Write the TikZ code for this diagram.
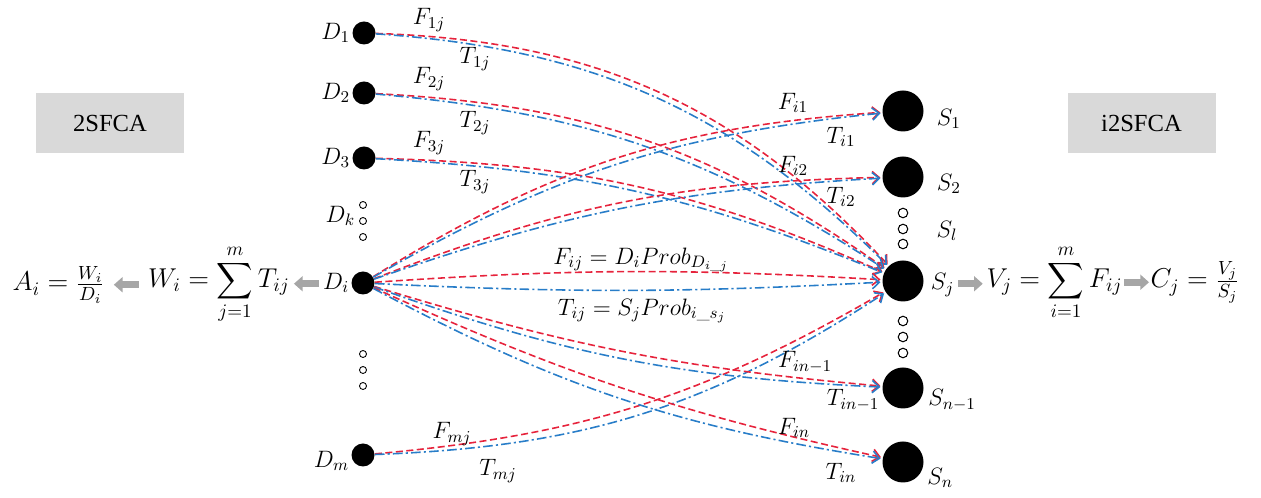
\RequirePackage{fix-cm}
\documentclass[tikz,border=0pt]{standalone}
\usepackage{fontspec}
\usepackage{amsmath}
\usepackage{tikz}
\usetikzlibrary{arrows.meta,positioning,calc}

\newfontfamily\boxfont{Liberation Serif}
\definecolor{flowred}{RGB}{230,35,60}
\definecolor{flowblue}{RGB}{40,125,200}

\begin{document}
\begin{tikzpicture}[
    demand/.style={circle, fill=black, inner sep=0pt, minimum size=0.46cm},
    supply/.style={circle, fill=black, inner sep=0pt, minimum size=0.82cm},
    dgap/.style={circle, draw=black, line width=0.5pt, inner sep=0pt, minimum size=0.14cm},
    sgap/.style={circle, draw=black, line width=0.6pt, inner sep=0pt, minimum size=0.19cm},
    lbl/.style={inner sep=1pt, font=\fontsize{13.5}{16}\selectfont},
    eqn/.style={inner sep=1pt, font=\fontsize{15.5}{18}\selectfont},
    method/.style={fill=gray!30, minimum width=2.96cm, minimum height=1.2cm, font=\boxfont\fontsize{14}{16}\selectfont},
    flowF/.style={flowred, line width=0.9pt, dash pattern=on 4pt off 2pt, -{Straight Barb[length=4pt,width=7pt]}, shorten >=1pt},
    flowT/.style={flowblue, line width=0.9pt, dash pattern=on 5.5pt off 1.8pt on 1.2pt off 1.8pt, -{Straight Barb[length=4pt,width=7pt]}, shorten >=1pt},
    bigarrow/.style={gray!70, line width=4pt, -{Triangle[length=5pt,width=8.5pt]}},
]
\useasboundingbox (0,0) rectangle (25.22,9.96);

% method boxes
\node[method] (twosfca) at (2.20,7.50) {2SFCA};
\node[method] (itwosfca) at (22.83,7.50) {i2SFCA};

% demand points
\node[demand] (d1) at (7.28,9.30) {};
\node[demand] (d2) at (7.28,8.10) {};
\node[demand] (d3) at (7.28,6.80) {};
\node[demand] (di) at (7.26,4.30) {};
\node[demand] (dm) at (7.26,0.86) {};
\node[dgap] (dk1) at (7.26,5.86) {};
\node[dgap] (dk2) at (7.26,5.54) {};
\node[dgap] (dk3) at (7.26,5.22) {};
\node[dgap] (dx1) at (7.26,2.88) {};
\node[dgap] (dx2) at (7.26,2.56) {};
\node[dgap] (dx3) at (7.26,2.24) {};

\node[lbl, left=0pt of d1] (d1lab) {$D_1$};
\node[lbl, left=0pt of d2] (d2lab) {$D_2$};
\node[lbl, left=0pt of d3] (d3lab) {$D_3$};
\node[lbl, left=1pt of dk2, yshift=1mm] (dklab) {$D_k$};
\node[lbl, left=0pt of di] (dilab) {$D_i$};
\node[lbl, left=0pt of dm, yshift=-1.2mm] (dmlab) {$D_m$};

% supply points
\node[supply] (s1) at (18.06,7.74) {};
\node[supply] (s2) at (18.06,6.42) {};
\node[supply] (sj) at (18.06,4.34) {};
\node[supply] (sn1) at (18.06,2.20) {};
\node[supply] (sn) at (18.06,0.72) {};
\node[sgap] (sl1) at (18.06,5.70) {};
\node[sgap] (sl2) at (18.06,5.38) {};
\node[sgap] (sl3) at (18.06,5.08) {};
\node[sgap] (sx1) at (18.06,3.54) {};
\node[sgap] (sx2) at (18.06,3.22) {};
\node[sgap] (sx3) at (18.06,2.90) {};

\node[lbl, right=2.2mm of s1, yshift=-1.6mm] (s1lab) {$S_1$};
\node[lbl, right=2.2mm of s2, yshift=-1.4mm] (s2lab) {$S_2$};
\node[lbl] (sllab) at (18.94,5.34) {$S_l$};
\node[lbl, right=1mm of sj, yshift=-0.8mm] (sjlab) {$S_j$};
\node[lbl, right=0.5mm of sn1, yshift=-2.4mm] (sn1lab) {$S_{n-1}$};
\node[lbl, right=0.3mm of sn, yshift=-3.2mm] (snlab) {$S_n$};

% flows into S_j
\draw[flowF] (d1) to[bend left=22.5] (sj);
\draw[flowT] (d1) to[bend left=20.5] (sj);
\draw[flowF] (d2) to[bend left=16] (sj);
\draw[flowT] (d2) to[bend left=14] (sj);
\draw[flowF] (d3) to[bend left=11.2] (sj);
\draw[flowT] (d3) to[bend left=9.5] (sj);
\draw[flowF] (dm) to[bend right=12.5] (sj);
\draw[flowT] (dm) to[bend right=15.5] (sj);

% flows out of D_i
\draw[flowF] (di) to[bend left=14] (s1);
\draw[flowT] (di) to[bend left=12] (s1);
\draw[flowF] (di) to[bend left=10] (s2);
\draw[flowT] (di) to[bend left=8] (s2);
\draw[flowF] (di) to[bend left=3.6] (sj);
\draw[flowT] (di) to[bend right=2.9] (sj);
\draw[flowF] (di) to[bend right=6] (sn1);
\draw[flowT] (di) to[bend right=8.5] (sn1);
\draw[flowF] (di) to[bend right=6] (sn);
\draw[flowT] (di) to[bend right=9.5] (sn);

% flow labels
\node[lbl] (f1j) at (8.58,9.56) {$F_{1j}$};
\node[lbl] (t1j) at (9.50,8.78) {$T_{1j}$};
\node[lbl] (f2j) at (8.58,8.38) {$F_{2j}$};
\node[lbl] (t2j) at (9.50,7.50) {$T_{2j}$};
\node[lbl] (f3j) at (8.58,7.10) {$F_{3j}$};
\node[lbl] (t3j) at (9.50,6.32) {$T_{3j}$};
\node[lbl] (fmj) at (9.04,1.28) {$F_{mj}$};
\node[lbl] (tmj) at (9.96,0.54) {$T_{mj}$};
\node[lbl] (fi1) at (15.86,7.90) {$F_{i1}$};
\node[lbl] (ti1) at (16.82,7.22) {$T_{i1}$};
\node[lbl] (fi2) at (15.86,6.64) {$F_{i2}$};
\node[lbl] (ti2) at (16.82,6.02) {$T_{i2}$};
\node[lbl] (fij) at (12.82,4.76) {$F_{ij} = D_iProb_{D_{i\_j}}$};
\node[lbl] (tij) at (12.84,3.74) {$T_{ij} = S_jProb_{i\_s_j}$};
\node[lbl] (fin1) at (16.10,2.72) {$F_{in-1}$};
\node[lbl] (tin1) at (17.06,1.96) {$T_{in-1}$};
\node[lbl] (fin) at (15.88,1.40) {$F_{in}$};
\node[lbl] (tin) at (16.82,0.50) {$T_{in}$};

% accessibility formulas
\node[eqn] (afrac) at (1.17,4.26) {$A_i = \frac{W_i}{D_i}$};
\node[eqn] (wsum) at (4.38,4.27) {$\displaystyle W_i = \sum_{j=1}^{m} T_{ij}$};
\node[eqn] (vsum) at (21.09,4.31) {$\displaystyle V_j = \sum_{i=1}^{m} F_{ij}$};
\node[eqn] (cfrac) at (23.90,4.32) {$C_j = \frac{V_j}{S_j}$};

\draw[bigarrow] ($(dilab.west)!.5!(wsum.east)+(0.25,0)$) -- ($(dilab.west)!.5!(wsum.east)-(0.25,0)$);
\draw[bigarrow] ($(wsum.west)!.5!(afrac.east)+(0.25,0)$) -- ($(wsum.west)!.5!(afrac.east)-(0.25,0)$);
\draw[bigarrow] ($(sjlab.east)!.5!(vsum.west)-(0.25,0)$) -- ($(sjlab.east)!.5!(vsum.west)+(0.25,0)$);
\draw[bigarrow] ($(vsum.east)!.5!(cfrac.west)-(0.25,0)$) -- ($(vsum.east)!.5!(cfrac.west)+(0.25,0)$);

\end{tikzpicture}
\end{document}
